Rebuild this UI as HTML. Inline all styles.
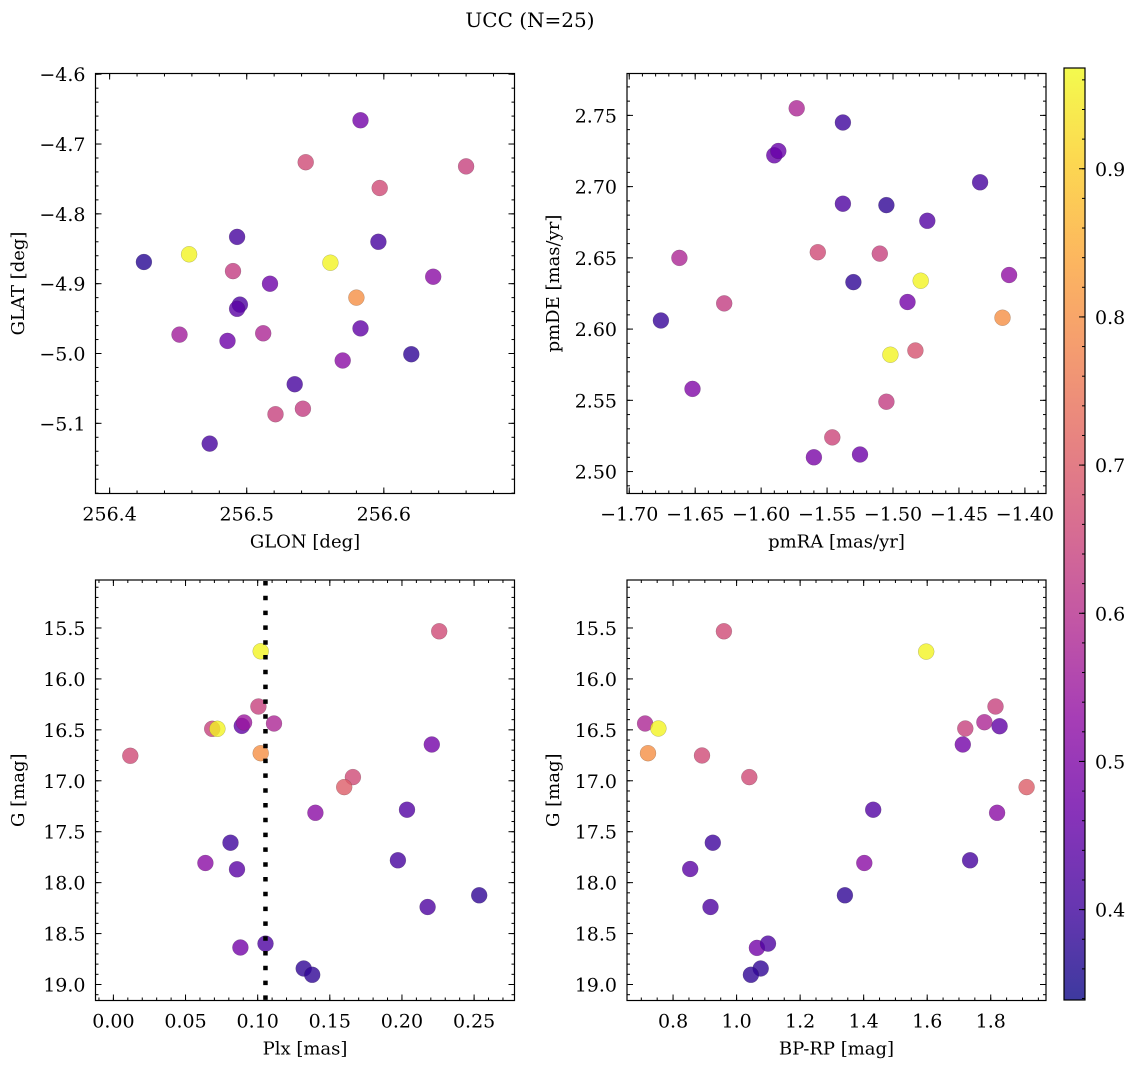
<!DOCTYPE html>
<html><head><meta charset="utf-8"><title>UCC (N=25)</title>
<style>
html,body{margin:0;padding:0;background:#fff;}
svg{display:block;font-family:"DejaVu Serif","Liberation Serif",serif;}
</style></head>
<body>
<svg id="fig" xmlns="http://www.w3.org/2000/svg" width="1136" height="1068" viewBox="0 0 1136 1068">
<rect x="0" y="0" width="1136" height="1068" fill="#fff"/>
<text x="530" y="27" font-size="20" text-anchor="middle">UCC (N=25)</text>
<defs>
<linearGradient id="cbgrad" x1="0" y1="1" x2="0" y2="0">
<stop offset="0" stop-color="#0d0887"/><stop offset="0.1" stop-color="#41049d"/><stop offset="0.2" stop-color="#6a00a8"/><stop offset="0.3" stop-color="#8f0da4"/><stop offset="0.4" stop-color="#b12a90"/><stop offset="0.5" stop-color="#cc4778"/><stop offset="0.6" stop-color="#e16462"/><stop offset="0.7" stop-color="#f2844b"/><stop offset="0.8" stop-color="#fca636"/><stop offset="0.9" stop-color="#fcce25"/><stop offset="1" stop-color="#f0f921"/>
</linearGradient>
</defs>
</svg>
<script>
// ---- data ----
const tlLon=[256.425,256.458,256.493,256.490,256.517,256.495,256.493,256.451,256.486,256.512,256.543,256.583,256.597,256.660,256.561,256.596,256.580,256.636,256.583,256.620,256.570,256.535,256.541,256.521,256.473];
const tlLat=[-4.869,-4.858,-4.833,-4.882,-4.900,-4.930,-4.936,-4.973,-4.982,-4.971,-4.726,-4.666,-4.763,-4.732,-4.870,-4.840,-4.920,-4.890,-4.964,-5.001,-5.010,-5.044,-5.079,-5.087,-5.129];
const tlC=[0.37,0.96,0.41,0.63,0.47,0.42,0.44,0.56,0.47,0.58,0.66,0.48,0.66,0.64,0.96,0.41,0.80,0.52,0.45,0.38,0.52,0.41,0.63,0.64,0.41];

const trRA=[-1.573,-1.538,-1.590,-1.587,-1.434,-1.538,-1.505,-1.474,-1.662,-1.557,-1.510,-1.412,-1.479,-1.530,-1.628,-1.489,-1.676,-1.417,-1.483,-1.502,-1.652,-1.505,-1.546,-1.525,-1.560];
const trDE=[2.755,2.745,2.722,2.725,2.703,2.688,2.687,2.676,2.650,2.654,2.653,2.638,2.634,2.633,2.618,2.619,2.606,2.608,2.585,2.582,2.558,2.549,2.524,2.512,2.510];
const trC=[0.58,0.40,0.46,0.46,0.41,0.42,0.38,0.43,0.58,0.66,0.64,0.53,0.96,0.38,0.63,0.48,0.39,0.80,0.68,0.96,0.50,0.63,0.65,0.47,0.49];

const blPlx=[0.0117,0.2258,0.1021,0.1005,0.0685,0.0721,0.0890,0.0906,0.1113,0.1021,0.2207,0.166,0.160,0.140,0.2035,0.0812,0.0638,0.0857,0.1972,0.2535,0.2178,0.0880,0.1054,0.1319,0.1378];
const blG=[16.755,15.533,15.729,16.271,16.490,16.490,16.461,16.428,16.438,16.729,16.644,16.964,17.062,17.314,17.284,17.608,17.807,17.869,17.781,18.124,18.239,18.637,18.598,18.843,18.905];
const blC=[0.66,0.66,0.96,0.64,0.64,0.96,0.45,0.55,0.58,0.80,0.48,0.66,0.70,0.52,0.43,0.40,0.52,0.44,0.41,0.38,0.42,0.48,0.42,0.38,0.38];
const plxMean=[0.1054];

const brBPRP=[0.712,0.754,0.721,0.960,0.891,1.040,1.597,1.815,1.720,1.780,1.828,1.712,1.913,1.430,1.820,0.925,0.854,1.402,1.735,1.341,0.918,1.064,1.099,1.076,1.045];
const brG=[16.438,16.487,16.729,15.533,16.752,16.964,15.732,16.271,16.487,16.425,16.464,16.644,17.062,17.284,17.314,17.608,17.866,17.807,17.781,18.124,18.239,18.641,18.598,18.843,18.905];
const brC=[0.58,0.96,0.80,0.66,0.66,0.66,0.96,0.64,0.64,0.58,0.45,0.48,0.70,0.43,0.52,0.40,0.44,0.52,0.41,0.38,0.42,0.48,0.42,0.38,0.38];

const tlXTicks=[256.4,256.5,256.6];
const tlYTicks=[-4.6,-4.7,-4.8,-4.9,-5.0,-5.1];
const trXTicks=[-1.70,-1.65,-1.60,-1.55,-1.50,-1.45,-1.40];
const trYTicks=[2.50,2.55,2.60,2.65,2.70,2.75];
const blXTicks=[0.00,0.05,0.10,0.15,0.20,0.25];
const gTicks=[15.5,16.0,16.5,17.0,17.5,18.0,18.5,19.0];
const brXTicks=[0.8,1.0,1.2,1.4,1.6,1.8];
const cbTicks=[0.4,0.5,0.6,0.7,0.8,0.9];
const cbRange=[0.339,0.968];

// ---- helpers ----
const NS='http://www.w3.org/2000/svg';
const svg=document.getElementById('fig');
function mk(tag,attrs,parent){const e=document.createElementNS(NS,tag);for(const k in attrs)e.setAttribute(k,attrs[k]);(parent||svg).appendChild(e);return e;}
const stops=[[0,[13,8,135]],[0.1,[65,4,157]],[0.2,[106,0,168]],[0.3,[143,13,164]],[0.4,[177,42,144]],[0.5,[204,71,120]],[0.6,[225,100,98]],[0.7,[242,132,75]],[0.8,[252,166,54]],[0.9,[252,206,37]],[1,[240,249,33]]];
function plasma(v){let t=(v-cbRange[0])/(cbRange[1]-cbRange[0]);t=Math.max(0,Math.min(1,t));for(let i=1;i<stops.length;i++){if(t<=stops[i][0]){const a=stops[i-1],b=stops[i];const f=(t-a[0])/(b[0]-a[0]);const c=a[1].map((x,j)=>Math.round(x+(b[1][j]-x)*f));return 'rgb('+c.join(',')+')';}}return 'rgb(240,249,33)';}
function fmt(v,d){const s=Math.abs(v).toFixed(d);return (v<0?'\u2212':'')+s;}

function panel(cfg){
  const g=mk('g',{});
  
  
  const {x0,x1,y0,y1,xd,yd}=cfg;
  const sx=v=>x0+(v-xd[0])/(xd[1]-xd[0])*(x1-x0);
  const sy=v=>y1-(v-yd[0])/(yd[1]-yd[0])*(y1-y0);
  const pg=mk('g',{},g);
  
  
  for(let i=0;i<cfg.xs.length;i++){
    const c=mk('circle',{cx:sx(cfg.xs[i]).toFixed(1),cy:sy(cfg.ys[i]).toFixed(1),r:8,fill:plasma(cfg.cs[i]),'fill-opacity':0.8,stroke:'rgba(60,60,60,0.35)','stroke-width':0.5},pg);
    
    
  }
  if(cfg.vline){
    const l=mk('line',{x1:sx(cfg.vline),x2:sx(cfg.vline),y1:y0+1,y2:y1,stroke:'#000','stroke-width':4.5,'stroke-dasharray':'4.5,10.3'},g);
    
    
  }
  const tk=mk('g',{stroke:'#000','stroke-width':1},g);
  
  
  const lo=Math.min(xd[0],xd[1]),hi=Math.max(xd[0],xd[1]);
  for(let k=Math.ceil(lo/cfg.xminor-1e-6);k*cfg.xminor<=hi+1e-9;k++){const X=sx(k*cfg.xminor);mk('line',{x1:X,x2:X,y1:y1,y2:y1-3},tk);mk('line',{x1:X,x2:X,y1:y0,y2:y0+3},tk);}
  const ylo=Math.min(yd[0],yd[1]),yhi=Math.max(yd[0],yd[1]);
  for(let k=Math.ceil(ylo/cfg.yminor-1e-6);k*cfg.yminor<=yhi+1e-9;k++){const Y=sy(k*cfg.yminor);mk('line',{x1:x0,x2:x0+3,y1:Y,y2:Y},tk);mk('line',{x1:x1,x2:x1-3,y1:Y,y2:Y},tk);}
  cfg.xt.forEach(v=>{const X=sx(v);mk('line',{x1:X,x2:X,y1:y1,y2:y1-6},tk);mk('line',{x1:X,x2:X,y1:y0,y2:y0+6},tk);
    const t=mk('text',{x:X,y:y1+27,'font-size':19,'text-anchor':'middle'},g);t.textContent=fmt(v,cfg.xdec);
    });
  cfg.yt.forEach(v=>{const Y=sy(v);mk('line',{x1:x0,x2:x0+6,y1:Y,y2:Y},tk);mk('line',{x1:x1,x2:x1-6,y1:Y,y2:Y},tk);
    const t=mk('text',{x:x0-10,y:Y+7,'font-size':19,'text-anchor':'end'},g);t.textContent=fmt(v,cfg.ydec);
    });
  const fr=mk('rect',{x:x0,y:y0,width:x1-x0,height:y1-y0,fill:'none',stroke:'#000','stroke-width':1.2},g);
  
  
  const xl=mk('text',{x:(x0+x1)/2,y:y1+54,'font-size':18,'text-anchor':'middle'},g);xl.textContent=cfg.xlabel;
  
  const yx=cfg.ylx,yy=(y0+y1)/2;
  const yl=mk('text',{x:yx,y:yy,'font-size':18,'text-anchor':'middle',transform:'rotate(-90 '+yx+' '+yy+')'},g);yl.textContent=cfg.ylabel;
  
}

panel({name:'glon-glat-panel',x0:95.5,x1:514.5,y0:73.5,y1:493.5,xd:[256.3897,256.6953],yd:[-5.2005,-4.599],xs:tlLon,ys:tlLat,cs:tlC,xt:tlXTicks,yt:tlYTicks,xminor:0.02,yminor:0.02,xdec:1,ydec:1,xlabel:'GLON [deg]',ylabel:'GLAT [deg]',ylx:24});
panel({name:'pm-panel',x0:627,x1:1046,y0:73.5,y1:493.5,xd:[-1.7017,-1.384],yd:[2.4846,2.7794],xs:trRA,ys:trDE,cs:trC,xt:trXTicks,yt:trYTicks,xminor:0.01,yminor:0.01,xdec:2,ydec:2,xlabel:'pmRA [mas/yr]',ylabel:'pmDE [mas/yr]',ylx:559});
panel({name:'plx-g-panel',x0:95.5,x1:514.5,y0:580,y1:1000.5,xd:[-0.0124,0.278],yd:[19.157,15.029],xs:blPlx,ys:blG,cs:blC,xt:blXTicks,yt:gTicks,xminor:0.01,yminor:0.1,xdec:2,ydec:1,xlabel:'Plx [mas]',ylabel:'G [mag]',ylx:24,vline:plxMean[0]});
panel({name:'cmd-panel',x0:627,x1:1046,y0:580,y1:1000.5,xd:[0.655,1.974],yd:[19.157,15.029],xs:brBPRP,ys:brG,cs:brC,xt:brXTicks,yt:gTicks,xminor:0.05,yminor:0.1,xdec:1,ydec:1,xlabel:'BP-RP [mag]',ylabel:'G [mag]',ylx:559});

(function(){
  const cx0=1064,cx1=1085,cy0=68,cy1=1000;
  const g=mk('g',{});
  
  
  mk('rect',{x:cx0,y:cy0,width:cx1-cx0,height:cy1-cy0,fill:'url(#cbgrad)','fill-opacity':0.8},g);
  mk('rect',{x:cx0,y:cy0,width:cx1-cx0,height:cy1-cy0,fill:'none',stroke:'#000','stroke-width':1.2},g);
  const sy=v=>cy1-(v-cbRange[0])/(cbRange[1]-cbRange[0])*(cy1-cy0);
  for(let k=Math.ceil(cbRange[0]/0.02);k*0.02<=cbRange[1];k++){const Y=sy(k*0.02);mk('line',{x1:cx1,x2:cx1-3,y1:Y,y2:Y,stroke:'#000'},g);}
  cbTicks.forEach(v=>{const Y=sy(v);mk('line',{x1:cx1,x2:cx1-6,y1:Y,y2:Y,stroke:'#000'},g);
    const t=mk('text',{x:cx1+10,y:Y+7,'font-size':19},g);t.textContent=v.toFixed(1);
    });
})();
</script>
</body></html>
